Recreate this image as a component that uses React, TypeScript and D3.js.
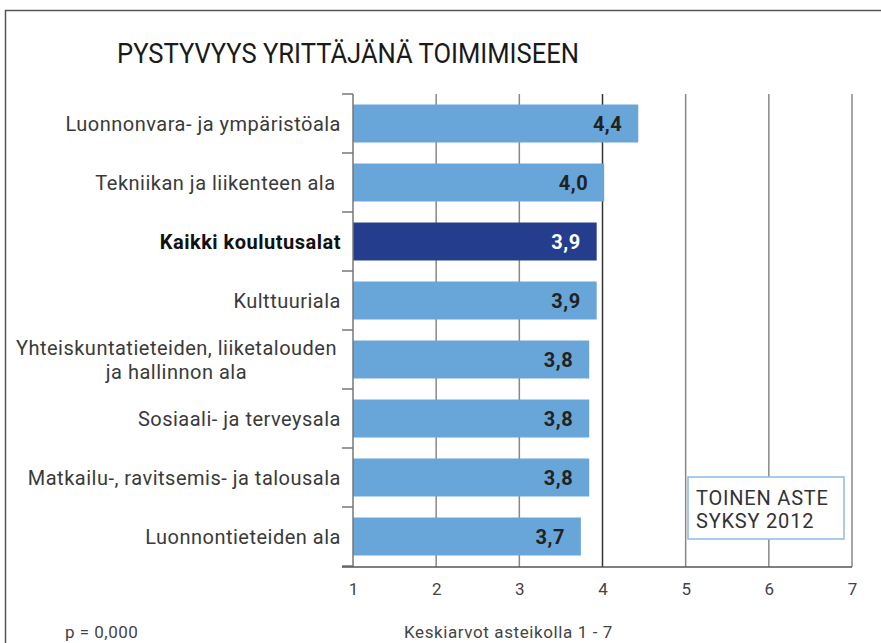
import {useEffect, useRef} from 'react';
import * as d3 from 'd3';

const [W, H] = [881, 643];

const title = 'PYSTYVYYS YRITTÄJÄNÄ TOIMIMISEEN';
const categories = [
    ['Luonnonvara- ja ympäristöala'],
    ['Tekniikan ja liikenteen ala '],
    ['Kaikki koulutusalat'],
    ['Kulttuuriala'],
    ['Yhteiskuntatieteiden, liiketalouden', 'ja hallinnon ala'],
    ['Sosiaali- ja terveysala'],
    ['Matkailu-, ravitsemis- ja talousala'],
    ['Luonnontieteiden ala'],
];
// bar lengths; labels show one decimal
const values = [4.43, 4.02, 3.93, 3.93, 3.84, 3.84, 3.84, 3.74];
const highlight = 'Kaikki koulutusalat';
const xTicks = [1, 2, 3, 4, 5, 6, 7];
const legendLines = ['TOINEN ASTE', 'SYKSY 2012'];
const pNote = 'p = 0,000';
const scaleNote = 'Keskiarvot asteikolla 1 - 7';

const FONT = 'Roboto, "DejaVu Sans", sans-serif';
const LIGHT = '#68a5d8';
const DARK = '#243e8d';

function BarChart() {
    const ref = useRef<SVGSVGElement>(null);

    useEffect(() => {
        if (!ref.current) return;
        const svg = d3.select(ref.current);
        svg.selectAll('*').remove();

        const keys = categories.map(c => c.join(' '));
        const x = d3.scaleLinear().domain([1, 7]).range([353, 852]);
        const y = d3.scaleBand().domain(keys).range([94, 566])
            .paddingInner(0.356).paddingOuter(0.178);
        const step = y.step();
        const axisY = 567;

        // frame
        svg.append('path').attr('d', `M5.5,${H} V10.5 H${W}`)
            .attr('fill', 'none').attr('stroke', '#555').attr('stroke-width', 1.5);

        // title
        svg.append('text').text(title)
            .attr('x', 117).attr('y', 63)
            .attr('textLength', 462).attr('lengthAdjust', 'spacingAndGlyphs')
            .style('font-family', FONT).style('font-size', '28px').style('fill', '#1a1a1a');

        // gridlines
        svg.append('g').selectAll('line').data(xTicks.slice(1)).join('line')
            .attr('x1', d => x(d)).attr('x2', d => x(d))
            .attr('y1', 94).attr('y2', axisY)
            .attr('stroke', d => d === 4 ? '#333' : '#888').attr('stroke-width', 1.5);

        // bars
        const rows = svg.append('g').selectAll('g').data(keys).join('g');
        rows.append('rect')
            .attr('x', x(1))
            .attr('y', d => y(d)!)
            .attr('width', (d, i) => x(values[i]) - x(1))
            .attr('height', y.bandwidth())
            .attr('fill', d => d === highlight ? DARK : LIGHT);
        rows.append('text')
            .text((d, i) => d3.format('.1f')(values[i]).replace('.', ','))
            .attr('x', (d, i) => x(values[i]) - 16)
            .attr('y', d => y(d)! + y.bandwidth() / 2)
            .attr('dy', '0.36em')
            .attr('text-anchor', 'end')
            .style('font-family', FONT).style('font-size', '20px').style('font-weight', 'bold')
            .style('letter-spacing', '0.5px')
            .style('fill', d => d === highlight ? '#fff' : '#222');

        // category labels
        const labelRight = 341;
        keys.forEach((k, i) => {
            const lines = categories[i];
            const cy = y(k)! + y.bandwidth() / 2;
            const t = svg.append('text')
                .style('font-family', FONT).style('font-size', '20px')
                .style('letter-spacing', '0.5px')
                .style('font-weight', k === highlight ? 'bold' : 'normal')
                .style('fill', k === highlight ? '#111' : '#3a3a3a')
                .style('white-space', 'pre');
            if (lines.length === 1) {
                t.attr('x', labelRight).attr('y', cy).attr('dy', '0.35em')
                    .attr('text-anchor', 'end').text(lines[0]);
            } else {
                const spans = lines.map((l, j) => t.append('tspan').text(l)
                    .attr('y', cy + (j - (lines.length - 1) / 2) * 24).attr('dy', '0.35em'));
                const w = (spans[0].node() as SVGTextContentElement).getComputedTextLength();
                spans.forEach(s => s.attr('x', labelRight - 4 - w / 2).attr('text-anchor', 'middle'));
            }
        });

        // left axis with band ticks
        const ya = svg.append('g').attr('stroke', '#777').attr('stroke-width', 1.5);
        ya.append('line').attr('x1', x(1)).attr('x2', x(1)).attr('y1', 94).attr('y2', axisY);
        ya.selectAll('line.tk').data(d3.range(keys.length + 1)).join('line').attr('class', 'tk')
            .attr('x1', 342).attr('x2', x(1))
            .attr('y1', i => 94 + i * step).attr('y2', i => 94 + i * step);

        // bottom axis
        const xa = svg.append('g').attr('transform', `translate(0,${axisY})`)
            .call(d3.axisBottom(x).tickValues(xTicks).tickSize(0).tickPadding(16).tickFormat(d3.format('d')));
        xa.select('.domain').attr('d', `M342,0H${x(7)}`).attr('stroke', '#555').attr('stroke-width', 1.5);
        xa.selectAll('text').style('font-family', FONT).style('font-size', '17px').style('fill', '#444');

        // legend box
        const lg = svg.append('g').attr('transform', 'translate(688,477)');
        lg.append('rect').attr('width', 156).attr('height', 62)
            .attr('fill', '#fff').attr('stroke', '#8dbbe3').attr('stroke-width', 1.5);
        lg.selectAll('text').data(legendLines).join('text').text(d => d)
            .attr('x', 8).attr('y', (d, i) => 28 + i * 23)
            .style('font-family', FONT).style('font-size', '20px').style('letter-spacing', '0.8px')
            .style('fill', '#333');

        // notes
        svg.append('text').text(pNote).attr('x', 65).attr('y', 638)
            .style('font-family', FONT).style('font-size', '17px').style('letter-spacing', '0.5px')
            .style('fill', '#444');
        svg.append('text').text(scaleNote).attr('x', 404).attr('y', 638)
            .style('font-family', FONT).style('font-size', '17px').style('letter-spacing', '0.6px')
            .style('fill', '#444');
    }, []);

    return <svg ref={ref} width={W} height={H} style={{position: 'absolute', left: 0, top: 0, background: '#fff'}} />;
}

export default function App() {
    return <BarChart />;
}
